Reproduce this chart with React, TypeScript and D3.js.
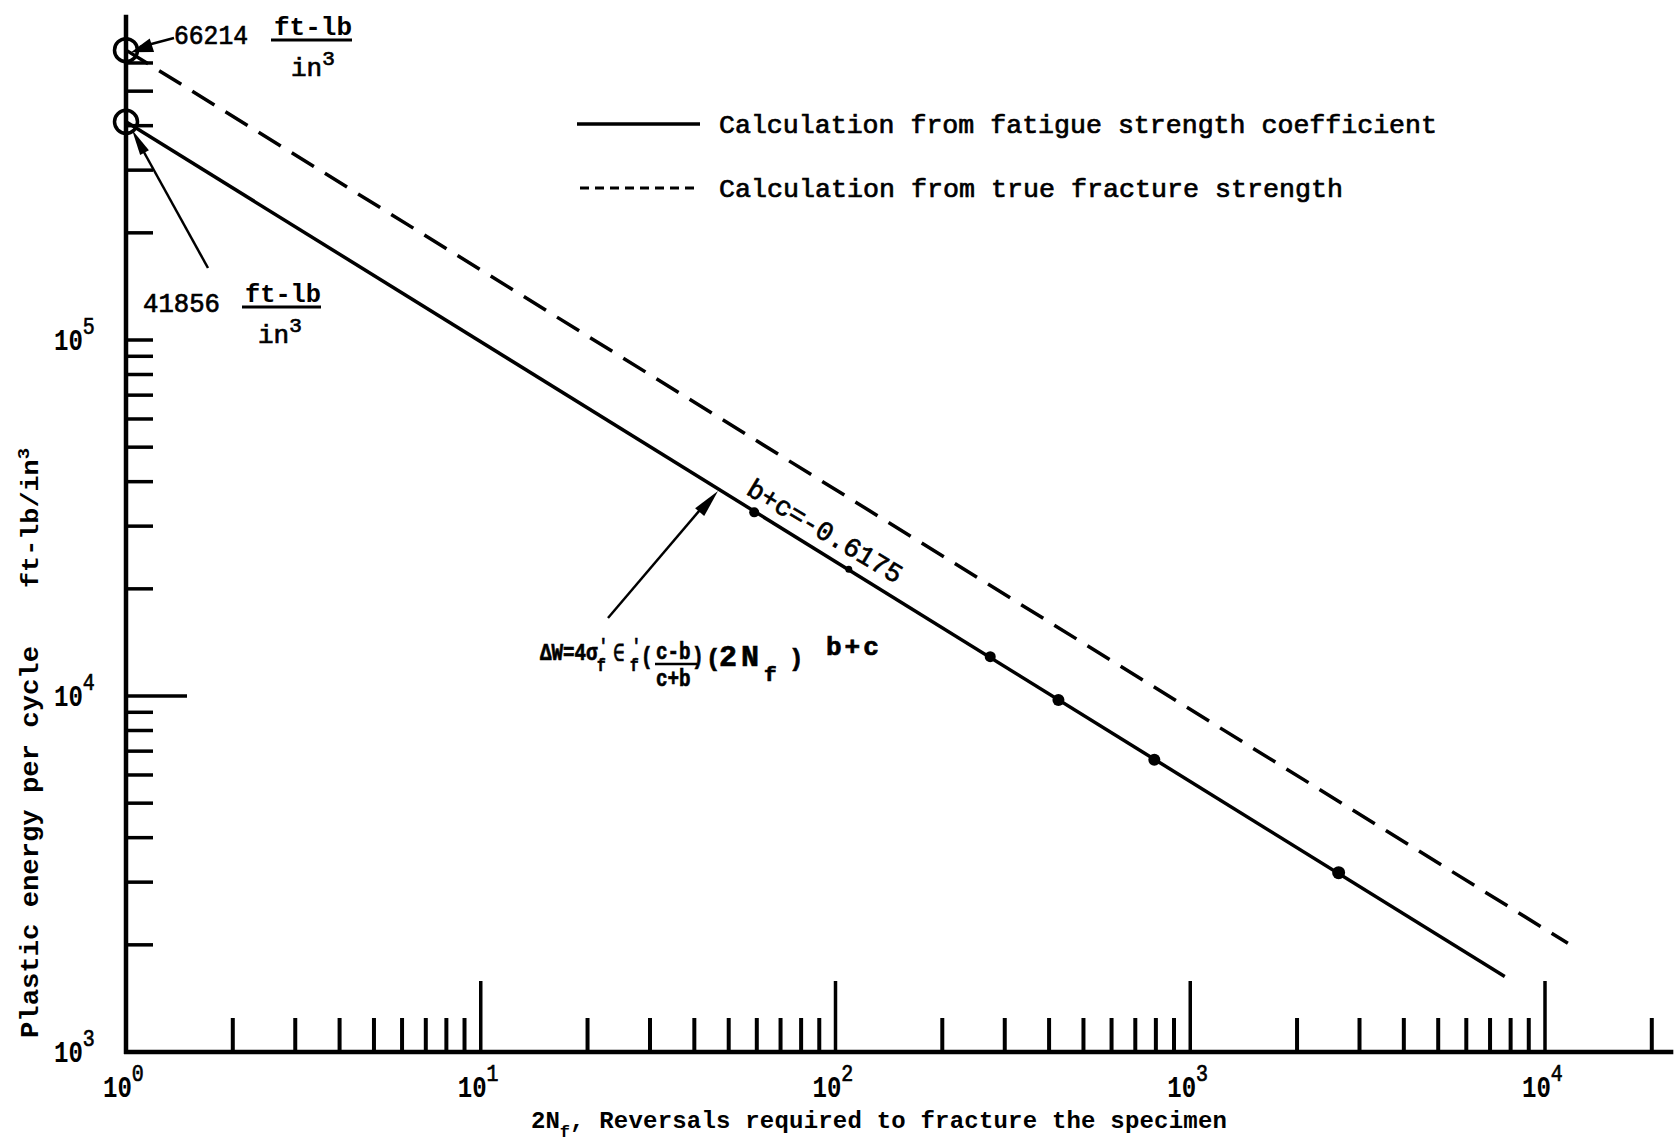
import React from 'react';
import * as d3 from 'd3';

const W = 1675;
const H = 1142;

// ---------- data ----------
const xDecades = [1, 10, 100, 1000, 10000];
const xExponentLabels = ['0', '1', '2', '3', '4'];
const xMinorMultipliers = [2, 3, 4, 5, 6, 7, 8, 9];
const xExtraMinor = [20000];
const yDecades = [1000, 10000, 100000];
const yExponentLabels = ['3', '4', '5'];
const yMinorMultipliers = [2, 3, 4, 5, 6, 7, 8, 9];
const yTopMinor = [200000, 300000, 400000, 500000, 600000];
const xAxisMax = 23000;
const yAxisMax = 820000;

const fatigueLine = [
  { n: 1, w: 410000 },
  { n: 7700, w: 1630 },
];
const fractureLine = [
  { n: 1, w: 652000 },
  { n: 11600, w: 2020 },
];
const pointN = [59, 109, 273, 425, 792, 2620];
const pointW = [32800, 22700, 12900, 9750, 6620, 3190];
const pointR = [5, 3.5, 5.5, 6, 6, 6.5];

const legendLabels = [
  'Calculation from fatigue strength coefficient',
  'Calculation from true fracture strength',
];
const startLabels = ['66214', '41856'];
const slopeLabel = 'b+c=-0.6175';
const yTitle = 'Plastic energy per cycle';
const yUnit = 'ft-lb/in';
const xTitleRest = ', Reversals required to fracture the specimen';

const FONT = "'Liberation Mono', 'DejaVu Sans Mono', monospace";

export default function App() {
  const x = d3.scaleLog().domain([1, 10000]).range([126, 1545]);
  const y = d3.scaleLog().domain([1000, 100000]).range([1052, 340]);
  const line = d3
    .line<{ n: number; w: number }>()
    .x((d) => x(d.n))
    .y((d) => y(d.w));

  const x0 = x(1);
  const yBase = y(1000);

  const xMinor: number[] = [];
  xDecades.slice(0, 4).forEach((d) => xMinorMultipliers.forEach((m) => xMinor.push(d * m)));
  xExtraMinor.forEach((v) => xMinor.push(v));
  const xMajor = xDecades.slice(1);

  const yMinor: number[] = [];
  yDecades.slice(0, 2).forEach((d) => yMinorMultipliers.forEach((m) => yMinor.push(d * m)));
  yTopMinor.forEach((v) => yMinor.push(v));

  const points = pointN.map((n, i) => ({ n, w: pointW[i], r: pointR[i] }));

  const tickW = 4;

  const slopeStartN = x.invert(745);
  const slopeAngle = 31;

  const upperY = y(fractureLine[0].w);
  const lowerY = y(fatigueLine[0].w);

  const arrowHead = (tx: number, ty: number, fx: number, fy: number, len: number, hw: number) => {
    const dx = tx - fx;
    const dy = ty - fy;
    const L = Math.sqrt(dx * dx + dy * dy);
    const ux = dx / L;
    const uy = dy / L;
    const bx = tx - ux * len;
    const by = ty - uy * len;
    return `M${tx},${ty}L${bx - uy * hw},${by + ux * hw}L${bx + uy * hw},${by - ux * hw}Z`;
  };

  const heavy = { stroke: '#000', strokeWidth: 0.7 };
  const lsx = 0.83; // horizontal squeeze for tick labels
  const fsx = 0.8; // horizontal squeeze for the formula

  const powLabel = (key: string, left: number, base: number, exp: string) => (
    <text key={key} transform={`translate(${left},${base}) scale(${lsx},1)`} fontSize={29} fontWeight="bold">
      10
      <tspan dy={-16} fontSize={24} fontWeight="normal" {...heavy}>
        {exp}
      </tspan>
    </text>
  );

  const F = (v: number) => v / fsx;

  return (
    <svg
      width={W}
      height={H}
      style={{ position: 'absolute', left: 0, top: 0, background: '#fff' }}
      fontFamily={FONT}
    >
      <rect x={0} y={0} width={W} height={H} fill="#fff" />

      {/* axes */}
      <line x1={x0} y1={y(yAxisMax)} x2={x0} y2={yBase + 2} stroke="#000" strokeWidth={4.5} />
      <line x1={x0 - 2} y1={yBase} x2={x(xAxisMax)} y2={yBase} stroke="#000" strokeWidth={4.5} />

      {/* x ticks */}
      {xMinor.map((v) => (
        <line key={'xm' + v} x1={x(v)} x2={x(v)} y1={yBase} y2={yBase - 34} stroke="#000" strokeWidth={tickW} />
      ))}
      {xMajor.map((v) => (
        <line key={'xM' + v} x1={x(v)} x2={x(v)} y1={yBase} y2={yBase - 71} stroke="#000" strokeWidth={tickW - 0.5} />
      ))}

      {/* y ticks */}
      {yMinor.map((v) => (
        <line key={'ym' + v} x1={x0} x2={x0 + 27} y1={y(v)} y2={y(v)} stroke="#000" strokeWidth={tickW - 0.5} />
      ))}
      <line x1={x0} x2={x0 + 27} y1={y(100000)} y2={y(100000)} stroke="#000" strokeWidth={tickW - 0.5} />
      <line x1={x0} x2={x0 + 61} y1={y(10000)} y2={y(10000)} stroke="#000" strokeWidth={tickW - 0.5} />

      {/* tick labels */}
      {yDecades.map((v, i) => powLabel('yl' + v, 54, y(v) + 10, yExponentLabels[i]))}
      {xDecades.map((v, i) => powLabel('xl' + v, x(v) - 23, 1097, xExponentLabels[i]))}

      {/* axis titles */}
      <text transform="rotate(-90)" x={-842} y={38} textAnchor="middle" fontSize={26} fontWeight="bold" textLength={392} lengthAdjust="spacingAndGlyphs">
        {yTitle}
      </text>
      <text transform="rotate(-90)" x={-518} y={38} textAnchor="middle" fontSize={24} fontWeight="bold" textLength={140} lengthAdjust="spacingAndGlyphs">
        {yUnit}
        <tspan dy={-9} fontSize={17}>3</tspan>
      </text>

      <text x={531} y={1128} fontSize={24} fontWeight="bold">
        2N
        <tspan dy={9} fontSize={17}>
          f
        </tspan>
        <tspan dy={-9} letterSpacing={0.2}>
          {xTitleRest}
        </tspan>
      </text>

      {/* data lines */}
      <path d={line(fractureLine) || ''} fill="none" stroke="#000" strokeWidth={3.5} strokeDasharray="26,13" />
      <path d={line(fatigueLine) || ''} fill="none" stroke="#000" strokeWidth={3.5} />

      {points.map((p, i) => (
        <circle key={'p' + i} cx={x(p.n)} cy={y(p.w)} r={p.r} fill="#000" />
      ))}

      {/* start circles */}
      <circle cx={x0} cy={upperY} r={11.5} fill="none" stroke="#000" strokeWidth={3.5} />
      <circle cx={x0} cy={lowerY} r={11.5} fill="none" stroke="#000" strokeWidth={3.5} />

      {/* upper annotation */}
      <line x1={174} y1={38} x2={140} y2={47} stroke="#000" strokeWidth={2.5} />
      <path d={arrowHead(x0 + 5, upperY + 2, 174, 38, 22, 7)} fill="#000" />
      <text x={174} y={44} fontSize={27} {...heavy} textLength={74} lengthAdjust="spacingAndGlyphs">
        {startLabels[0]}
      </text>
      <text x={274} y={35} fontSize={26} fontWeight="bold" textLength={78} lengthAdjust="spacingAndGlyphs">
        ft-lb
      </text>
      <line x1={271} x2={352} y1={40} y2={40} stroke="#000" strokeWidth={3} />
      <text x={291} y={76} fontSize={26} {...heavy}>
        in
        <tspan dy={-11} fontSize={21}>
          3
        </tspan>
      </text>

      {/* lower annotation */}
      <line x1={208} y1={268} x2={140} y2={145} stroke="#000" strokeWidth={2.5} />
      <path d={arrowHead(x0 + 6, lowerY + 8, 208, 268, 26, 5)} fill="#000" />
      <text x={143} y={312} fontSize={27} {...heavy} textLength={77} lengthAdjust="spacingAndGlyphs">
        {startLabels[1]}
      </text>
      <text x={245} y={302} fontSize={26} fontWeight="bold" textLength={76} lengthAdjust="spacingAndGlyphs">
        ft-lb
      </text>
      <line x1={242} x2={321} y1={307} y2={307} stroke="#000" strokeWidth={3} />
      <text x={258} y={343} fontSize={26} {...heavy}>
        in
        <tspan dy={-11} fontSize={21}>
          3
        </tspan>
      </text>

      {/* legend */}
      <line x1={577} x2={700} y1={124} y2={124} stroke="#000" strokeWidth={3.5} />
      <line x1={580} x2={700} y1={188} y2={188} stroke="#000" strokeWidth={3} strokeDasharray="9,6" />
      <text x={719} y={133} fontSize={26} {...heavy} textLength={718} lengthAdjust="spacingAndGlyphs">
        {legendLabels[0]}
      </text>
      <text x={719} y={197} fontSize={26} {...heavy} textLength={624} lengthAdjust="spacingAndGlyphs">
        {legendLabels[1]}
      </text>

      {/* slope label */}
      <text
        transform={`translate(${x(slopeStartN)},${y(fatigueLine[0].w * Math.pow(slopeStartN, -0.6175)) - 12}) rotate(${slopeAngle})`}
        fontSize={27}
        {...heavy}
        textLength={176}
        lengthAdjust="spacingAndGlyphs"
      >
        {slopeLabel}
      </text>

      {/* formula arrow */}
      <line x1={608} y1={618} x2={705} y2={504} stroke="#000" strokeWidth={2.5} />
      <path d={arrowHead(718, 491, 608, 618, 28, 6)} fill="#000" />

      {/* formula */}
      <line x1={655} x2={697} y1={664} y2={664} stroke="#000" strokeWidth={2.5} />
      <text transform={`scale(${fsx},1)`} fontWeight="bold" fontSize={24} {...heavy}>
        <tspan x={F(540)} y={660}>ΔW=4σ</tspan>
        <tspan x={F(599)} y={651} fontSize={18}>'</tspan>
        <tspan x={F(597)} y={671} fontSize={18}>f</tspan>
        <tspan x={F(613)} y={661} fontWeight="normal">∈</tspan>
        <tspan x={F(632)} y={651} fontSize={18}>'</tspan>
        <tspan x={F(630)} y={671} fontSize={18}>f</tspan>
        <tspan x={F(641)} y={664}>(</tspan>
        <tspan x={F(656)} y={659}>c-b</tspan>
        <tspan x={F(656)} y={686}>c+b</tspan>
        <tspan x={F(692)} y={664}>)</tspan>
      </text>
      <text fontWeight="bold" fontSize={27} {...heavy}>
        <tspan x={706} y={666} fontSize={24}>(</tspan>
        <tspan x={719} y={666} fontSize={30} letterSpacing={4}>2N</tspan>
        <tspan x={764} y={681} fontSize={21}>f</tspan>
        <tspan x={789} y={666} fontSize={24}>)</tspan>
        <tspan x={826} y={655} fontSize={26} letterSpacing={3}>b+c</tspan>
      </text>
    </svg>
  );
}
